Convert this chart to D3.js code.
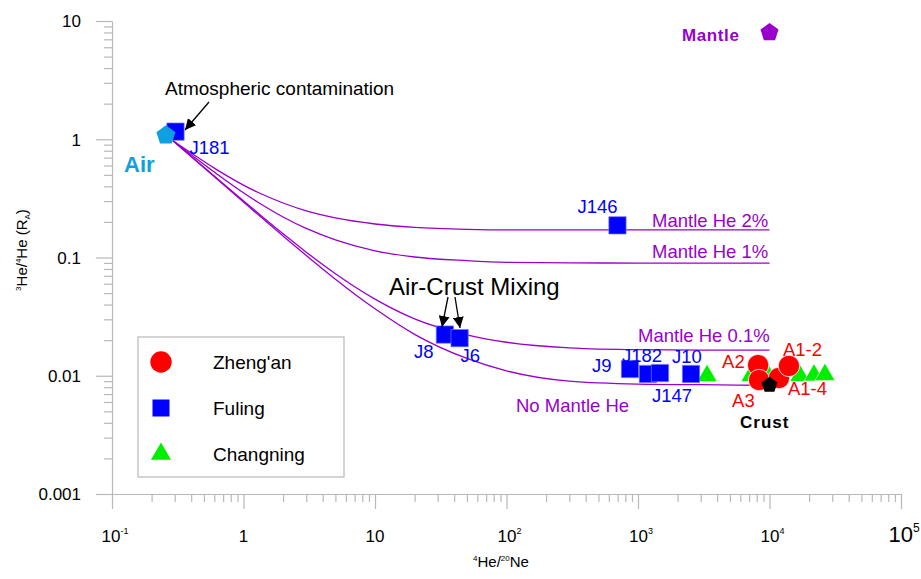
<!DOCTYPE html>
<html>
<head>
<meta charset="utf-8">
<script src="https://cdn.jsdelivr.net/npm/d3@7"></script>
<style>
body { margin: 0; background: #fff; }
text { font-family: "Liberation Sans", Arial, sans-serif; }
</style>
</head>
<body>
<svg id="chart" width="921" height="579"></svg>
<script>
// ---- data ----
const fulingNames = ['J181', 'J146', 'J8', 'J6', 'J9', 'J147', 'J182', 'J10'];
const fulingX = [0.304, 698, 34, 44, 869, 1190, 1470, 2530];
const fulingY = [1.16, 0.187, 0.0223, 0.0208, 0.0114, 0.01035, 0.01054, 0.01035];

const zhenganNames = ['A2', 'A3', 'A1-4', 'A1-2'];
const zhenganX = [8190, 8330, 11800, 14060];
const zhenganY = [0.0123, 0.0092, 0.00957, 0.0121];

const changningX = [3350, 7230, 9750, 17000, 21800, 26400];
const changningY = [0.0100, 0.0100, 0.0101, 0.0100, 0.0101, 0.0102];

const endMembers = ['Air', 'Mantle', 'Crust'];
const endX = [0.257, 10000, 10000];
const endY = [1.08, 8.0, 0.00835];

// mixing curves (air -> end member)
const curveX = [0.291, 1.27, 2, 3, 5, 10, 20, 50, 100, 300, 1000, 3000, 10000];
const mantle2 = [0.97, 0.358, 0.289, 0.248, 0.216, 0.192, 0.180, 0.173, 0.171, 0.171, 0.171, 0.171, 0.171];
const mantle1 = [0.97, 0.296, 0.220, 0.176, 0.141, 0.114, 0.101, 0.094, 0.091, 0.090, 0.0898, 0.0898, 0.0898];
const mantle01 = [0.97, 0.241, 0.159, 0.111, 0.073, 0.0445, 0.0303, 0.0222, 0.0192, 0.0172, 0.0166, 0.0165, 0.0165];
const mantle0 = [0.97, 0.234, 0.152, 0.104, 0.0655, 0.0368, 0.0224, 0.0140, 0.0110, 0.0090, 0.0085, 0.0084, 0.0083];

const xMajor = [0.1, 1, 10, 100, 1000, 10000, 100000];
const xMajorBase = ['10', '1', '10', '10', '10', '10', '10'];
const xMajorExp = ['-1', '', '', '2', '3', '4', '5'];
const yMajor = [0.001, 0.01, 0.1, 1, 10];
const yMajorLabels = ['0.001', '0.01', '0.1', '1', '10'];

// ---- setup ----
const svg = d3.select('#chart');
const x = d3.scaleLog().domain([0.1, 1e5]).range([112, 901]);
const y = d3.scaleLog().domain([0.001, 10]).range([494, 21]);
const axisColor = '#b8b8b8';
const purple = '#9900cc';
const blue = '#0000ff';
const red = '#ff0000';
const green = '#00ee00';
const cyan = '#0fa0e0';

function minorTicks(lo, hi) {
    let t = [];
    for (let d = lo; d < hi; d++)
        for (let m = 2; m <= 9; m++) t.push(m * Math.pow(10, d));
    return t;
}

// ---- axes ----
svg.append('g').attr('transform', 'translate(0,494)')
    .call(d3.axisBottom(x).tickValues(minorTicks(-1, 5)).tickSize(8).tickSizeOuter(0).tickFormat(''));
const xMaj = svg.append('g').attr('transform', 'translate(0,494)')
    .call(d3.axisBottom(x).tickValues(xMajor).tickSize(15).tickSizeOuter(0).tickFormat(''));
xMaj.select('.domain').remove();
svg.append('g').attr('transform', 'translate(112,0)')
    .call(d3.axisLeft(y).tickValues(minorTicks(-3, 1)).tickSize(8).tickSizeOuter(0).tickFormat(''));
const yMaj = svg.append('g').attr('transform', 'translate(112,0)')
    .call(d3.axisLeft(y).tickValues(yMajor).tickSize(16).tickSizeOuter(0).tickFormat(''));
yMaj.select('.domain').remove();
svg.selectAll('.domain, .tick line').attr('stroke', axisColor).attr('stroke-width', 1.2);

// tick labels
xMajor.forEach((v, i) => {
    const big = i === xMajor.length - 1;
    const t = svg.append('text')
        .attr('x', x(v) + (xMajorExp[i] ? 3 : 0)).attr('y', 542)
        .attr('text-anchor', 'middle')
        .style('font-size', big ? '22px' : '17px');
    t.append('tspan').text(xMajorBase[i]);
    if (xMajorExp[i])
        t.append('tspan').attr('dy', big ? -10 : -8).style('font-size', big ? '12px' : '9px').text(xMajorExp[i]);
});
yMajor.forEach((v, i) => {
    svg.append('text').attr('x', 81).attr('y', y(v)).attr('dy', '0.38em')
        .attr('text-anchor', 'end').style('font-size', '17px').text(yMajorLabels[i]);
});

// axis titles
const xt = svg.append('text').attr('x', 501).attr('y', 567).attr('text-anchor', 'middle').style('font-size', '15px');
xt.append('tspan').attr('dy', -6).style('font-size', '8px').text('4');
xt.append('tspan').attr('dy', 6).text('He/');
xt.append('tspan').attr('dy', -6).style('font-size', '8px').text('20');
xt.append('tspan').attr('dy', 6).text('Ne');

const yt = svg.append('text').attr('transform', 'translate(27,250) rotate(-90)')
    .attr('text-anchor', 'middle').style('font-size', '15px');
yt.append('tspan').attr('dy', -6).style('font-size', '8px').text('3');
yt.append('tspan').attr('dy', 6).text('He/');
yt.append('tspan').attr('dy', -6).style('font-size', '8px').text('4');
yt.append('tspan').attr('dy', 6).text('He (R');
yt.append('tspan').attr('dy', 3).style('font-size', '8px').text('A');
yt.append('tspan').attr('dy', -3).text(')');

// ---- mixing curves ----
const line = d3.line().x(d => x(d[0])).y(d => y(d[1])).curve(d3.curveMonotoneX);
[mantle2, mantle1, mantle01, mantle0].forEach(c => {
    svg.append('path')
        .datum(curveX.map((v, i) => [v, c[i]]))
        .attr('d', line)
        .attr('fill', 'none')
        .attr('stroke', purple)
        .attr('stroke-width', 1.3);
});

const curveLabels = [
    { t: 'Mantle He 2%', x: 652, y: 227 },
    { t: 'Mantle He 1%', x: 652, y: 258 },
    { t: 'Mantle He 0.1%', x: 638, y: 342 },
    { t: 'No Mantle He', x: 516, y: 412 }
];
curveLabels.forEach(c => {
    svg.append('text').attr('x', c.x).attr('y', c.y).style('font-size', '18.5px')
        .attr('fill', purple).text(c.t);
});

// ---- symbols ----
const symbolPentagon = {
    draw(ctx, size) {
        const r = Math.sqrt(size / 2.378);
        for (let i = 0; i < 5; i++) {
            const a = -Math.PI / 2 + i * 2 * Math.PI / 5;
            if (i === 0) ctx.moveTo(r * Math.cos(a), r * Math.sin(a));
            else ctx.lineTo(r * Math.cos(a), r * Math.sin(a));
        }
        ctx.closePath();
    }
};
const sqPath = d3.symbol().type(d3.symbolSquare).size(300)();
const circPath = d3.symbol().type(d3.symbolCircle).size(360)();
const triPath = d3.symbol().type(d3.symbolTriangle).size(175)();

// Changning
svg.selectAll('.tri').data(changningX).enter().append('path')
    .attr('d', triPath)
    .attr('transform', (d, i) => `translate(${x(d)},${y(changningY[i])})`)
    .attr('fill', green).attr('stroke', '#fff').attr('stroke-width', 0.6);

// Fuling
svg.selectAll('.sq').data(fulingX).enter().append('path')
    .attr('d', sqPath)
    .attr('transform', (d, i) => `translate(${x(d)},${y(fulingY[i])})`)
    .attr('fill', blue).attr('stroke', '#7c7cff').attr('stroke-width', 0.7);

// Zheng'an
svg.selectAll('.circ').data(zhenganX).enter().append('path')
    .attr('d', circPath)
    .attr('transform', (d, i) => `translate(${x(d)},${y(zhenganY[i])})`)
    .attr('fill', red).attr('stroke', '#fff').attr('stroke-width', 0.8);

// end members
const endColors = [cyan, purple, '#000'];
const endSizes = [2.378 * 100, 2.378 * 90, 2.378 * 70];
endX.forEach((v, i) => {
    svg.append('path')
        .attr('d', d3.symbol().type(symbolPentagon).size(endSizes[i])())
        .attr('transform', `translate(${x(v)},${y(endY[i])})`)
        .attr('fill', endColors[i]);
});

// ---- point labels ----
const fulingOff = [[14, 22], [-40, -12], [-31, 23], [1, 24], [-38, 3], [4, 28], [-38, -11], [-19, -11]];
fulingNames.forEach((n, i) => {
    svg.append('text').attr('x', x(fulingX[i]) + fulingOff[i][0]).attr('y', y(fulingY[i]) + fulingOff[i][1])
        .style('font-size', '18.5px').attr('fill', blue).text(n);
});
const zhenganOff = [[-36, 3], [-27, 27], [9, 17], [-6, -10]];
zhenganNames.forEach((n, i) => {
    svg.append('text').attr('x', x(zhenganX[i]) + zhenganOff[i][0]).attr('y', y(zhenganY[i]) + zhenganOff[i][1])
        .style('font-size', '18.5px').attr('fill', red).text(n);
});

svg.append('text').attr('x', 124).attr('y', 172).style('font-size', '22px').style('font-weight', 'bold')
    .attr('fill', cyan).text(endMembers[0]);
svg.append('text').attr('x', 682).attr('y', 41).style('font-size', '17px').style('font-weight', 'bold')
    .style('letter-spacing', '0.6px').attr('fill', purple).text(endMembers[1]);
svg.append('text').attr('x', 740).attr('y', 428).style('font-size', '17px').style('font-weight', 'bold')
    .style('letter-spacing', '1px').attr('fill', '#000').text(endMembers[2]);

// ---- annotations ----
svg.append('defs').append('marker')
    .attr('id', 'arrow').attr('viewBox', '0 0 10 10').attr('refX', 10).attr('refY', 5)
    .attr('markerWidth', 11).attr('markerHeight', 11).attr('markerUnits', 'userSpaceOnUse')
    .attr('orient', 'auto')
    .append('path').attr('d', 'M0,0 L10,5 L0,10 Z').attr('fill', '#000');

svg.append('text').attr('x', 165).attr('y', 95).style('font-size', '19px').text('Atmospheric contamination');
svg.append('line').attr('x1', 209).attr('y1', 102).attr('x2', 185).attr('y2', 130)
    .attr('stroke', '#000').attr('stroke-width', 1.3).attr('marker-end', 'url(#arrow)');

svg.append('text').attr('x', 389).attr('y', 295).style('font-size', '24px').text('Air-Crust Mixing');
svg.append('line').attr('x1', 448).attr('y1', 297).attr('x2', 442).attr('y2', 327)
    .attr('stroke', '#000').attr('stroke-width', 1.3).attr('marker-end', 'url(#arrow)');
svg.append('line').attr('x1', 455).attr('y1', 297).attr('x2', 460).attr('y2', 328)
    .attr('stroke', '#000').attr('stroke-width', 1.3).attr('marker-end', 'url(#arrow)');

// ---- legend ----
const legend = svg.append('g').attr('transform', 'translate(138,337)');
legend.append('rect').attr('width', 206).attr('height', 140)
    .attr('fill', '#fff').attr('stroke', axisColor).attr('stroke-width', 1.2);
const legendNames = ["Zheng'an", 'Fuling', 'Changning'];
const legendPaths = [circPath, d3.symbol().type(d3.symbolSquare).size(289)(), triPath];
const legendColors = [red, blue, green];
legendNames.forEach((n, i) => {
    legend.append('path').attr('d', legendPaths[i])
        .attr('transform', `translate(23,${25 + i * 46})`).attr('fill', legendColors[i]);
    legend.append('text').attr('x', 75).attr('y', 25 + i * 46).attr('dy', '0.36em')
        .style('font-size', '19px').text(n);
});
</script>
</body>
</html>
